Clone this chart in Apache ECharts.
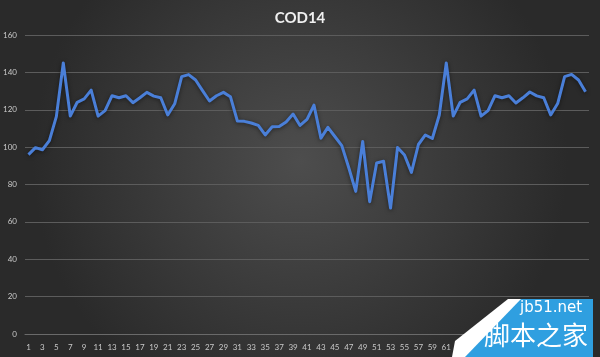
<!DOCTYPE html>
<html><head><meta charset="utf-8">
<script src="https://cdn.jsdelivr.net/npm/echarts@6/dist/echarts.min.js"></script>
<style>html,body{margin:0;padding:0;background:#333;}#c{width:600px;height:357px;}</style>
</head><body><div id="c"></div>
<script>
var categories = [];
for (var i = 1; i <= 81; i++) categories.push(String(i));
var values = [
  96, 99.7, 98.6, 103.5, 116.3, 145, 116.6, 124, 125.8, 130.5,
  116.6, 119.5, 127.5, 126.4, 127.5, 123.8, 126.4, 129.3, 127.3, 126.4,
  117.2, 123.2, 137.7, 138.8, 135.9, 130.2, 124.7, 127.5, 129.3, 127,
  114, 113.8, 112.9, 111.6, 106.5, 110.9, 111, 113.5, 117.7, 111.6,
  114.8, 122.5, 104.8, 110.6, 105.7, 100.8, 89, 76.3, 103, 70.8,
  91.5, 92.4, 67.4, 99.8, 95.8, 86.5, 101.4, 106.5, 104.6, 117.2,
  145, 116.6, 124, 125.8, 130.5, 116.6, 119.5, 127.5, 126.4, 127.5,
  123.6, 126.4, 129.5, 127.4, 126.4, 117.2, 123.3, 137.7, 138.9, 135.9,
  129.6
];
var yTicks = { min: 0, max: 160, interval: 20 };

var chart = echarts.init(document.getElementById('c'));
chart.setOption({
  animation: false,
  backgroundColor: {
    type: 'radial', x: 0.5, y: 0.45, r: 0.75,
    colorStops: [{offset: 0, color: '#4d4d4d'}, {offset: 1, color: '#2a2a2a'}]
  },
  title: {
    text: 'COD14', left: 'center', top: 6,
    textStyle: { color: '#f0f0f0', fontSize: 15, fontWeight: 'bold', fontFamily: 'Lato' }
  },
  grid: { left: 25, right: 11, top: 35, bottom: 23, containLabel: false },
  xAxis: {
    type: 'category', data: categories, boundaryGap: true,
    axisLine: { show: true, lineStyle: { color: '#6a6a6a', width: 1 } },
    axisTick: { show: false },
    axisLabel: { interval: 1, color: '#c8c8c8', fontSize: 8, margin: 9, fontFamily: 'Lato' },
    splitLine: { show: false }
  },
  yAxis: {
    type: 'value', min: yTicks.min, max: yTicks.max, interval: yTicks.interval,
    axisLine: { show: false }, axisTick: { show: false },
    axisLabel: { color: '#c8c8c8', fontSize: 8, margin: 8, fontFamily: 'Lato' },
    splitLine: { lineStyle: { color: '#5c5c5c', width: 1 } }
  },
  series: [{
    type: 'line', data: values, symbol: 'none', smooth: false,
    lineStyle: { color: '#4a7fd8', width: 3, shadowBlur: 4, shadowColor: 'rgba(0,0,0,0.5)', shadowOffsetY: 1, join: 'round' }
  }],
  graphic: [
    { type: 'polygon', shape: { points: [[452, 357], [455, 341], [508, 299], [593, 299], [593, 357]] }, style: { fill: '#ffffff' }, z: 100 },
    { type: 'polygon', shape: { points: [[465, 357], [521, 299], [593, 299], [593, 357]] }, style: { fill: '#2f9fe0' }, z: 101 },
    { type: 'text', left: 520, top: 301, style: { text: 'jb51.net', fill: '#ffffff', fontSize: 15, fontFamily: 'DejaVu Sans' }, z: 102 },
    { type: 'text', left: 484, top: 322, style: { text: '脚本之家', fill: '#ffffff', fontSize: 26, fontFamily: 'Noto Sans CJK SC' }, z: 102 }
  ]
});
</script>
</body></html>
